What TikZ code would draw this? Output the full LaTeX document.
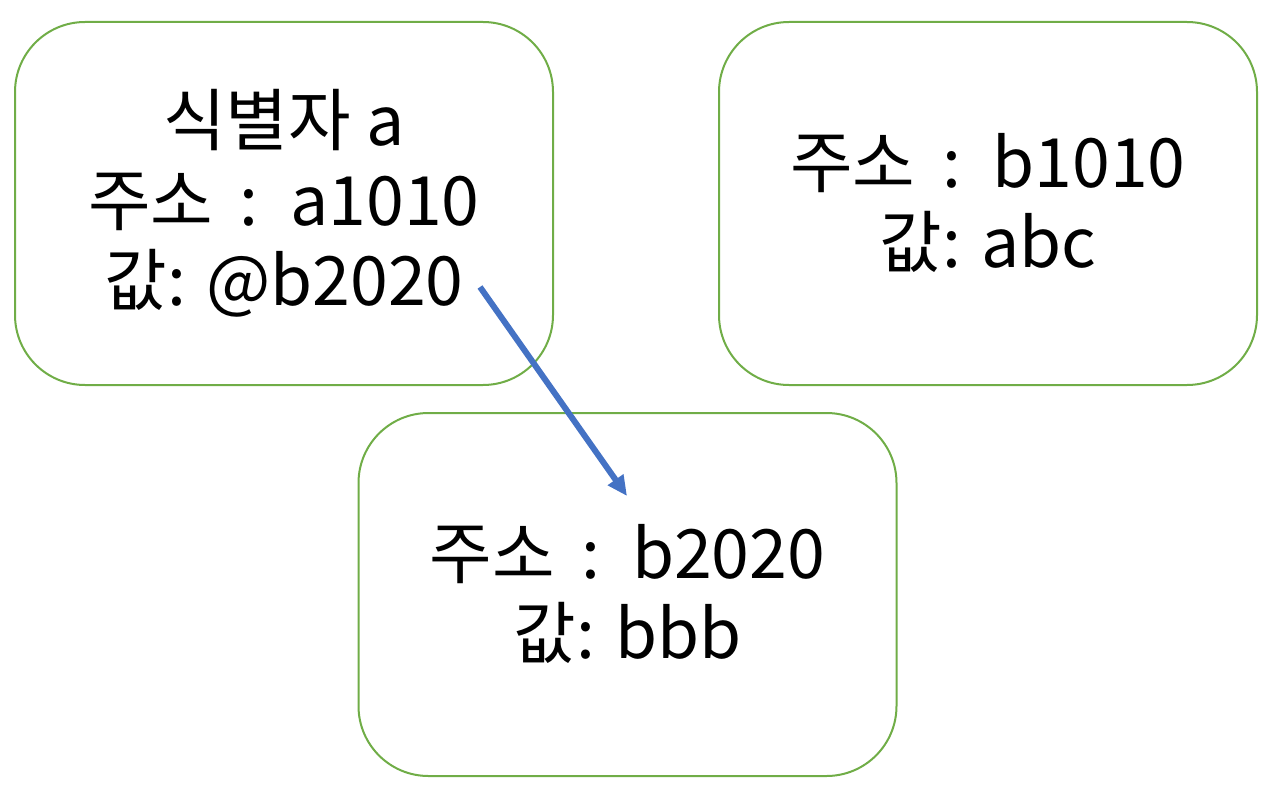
\documentclass[tikz,border=0pt]{standalone}
\usepackage{fontspec}
\setmainfont{Noto Sans CJK KR}
\usepackage{xcolor}
\usetikzlibrary{positioning, arrows.meta}
\definecolor{boxgreen}{HTML}{70AD47}
\definecolor{ptrblue}{HTML}{4472C4}

\begin{document}
\begin{tikzpicture}[x=1pt, y=-1pt,
    membox/.style={draw=boxgreen, line width=2pt, rounded corners=70pt,
          minimum width=538pt, minimum height=363pt, inner sep=0pt},
    memtext/.style={align=center, font=\fontsize{68}{80}\selectfont, inner sep=0pt},
    pointer/.style={draw=ptrblue, line width=6pt, -{Triangle[length=20pt, width=18pt]}}]
    \useasboundingbox (0,0) rectangle (1277,789);
    % memory cells
    \node[membox] (varA) at (284,203.5) {};
    \node[membox] (cellB1) at (988,203.5) {};
    \node[membox] (cellB2) at (627.5,594.5) {};
    \node[memtext] (varAtext) at (varA) {식별자 a\\주소 \,:\, a1010\\값: @b2020};
    \node[memtext] (cellB1text) at ([yshift=1pt]cellB1) {주소 \,:\, b1010\\값: abc};
    \node[memtext] (cellB2text) at ([yshift=1pt]cellB2) {주소 \,:\, b2020\\값: bbb};
    % reference from a to b2020
    \coordinate (ptrstart) at (480,287);
    \coordinate (ptrend) at (627,496);
    \draw[pointer] (ptrstart) -- (ptrend);
\end{tikzpicture}
\end{document}
